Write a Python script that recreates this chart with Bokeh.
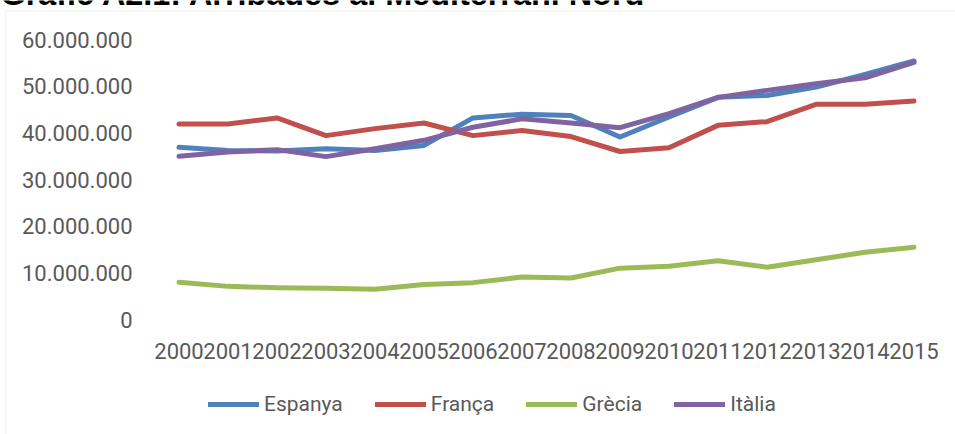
from bokeh.plotting import figure
from bokeh.models import FixedTicker, Legend, LegendItem, Label, BoxAnnotation, Range1d, LinearAxis
from bokeh.embed import file_html
from bokeh.resources import INLINE

title_text = "Gràfic A2.1: Arribades al Mediterrani Nord"
years = ["2000", "2001", "2002", "2003", "2004", "2005", "2006", "2007",
         "2008", "2009", "2010", "2011", "2012", "2013", "2014", "2015"]
# arrivals, in millions
espanya = [36.9, 36.2, 36.1, 36.6, 36.2, 37.3, 43.2, 44.0, 43.7, 39.1, 43.4, 47.6, 48.0, 49.8, 52.5, 55.4]
franca = [41.9, 41.9, 43.2, 39.4, 40.9, 42.1, 39.4, 40.5, 39.2, 36.0, 36.8, 41.6, 42.4, 46.1, 46.1, 46.8]
grecia = [8.0, 7.1, 6.8, 6.7, 6.5, 7.5, 7.9, 9.1, 8.9, 11.0, 11.4, 12.6, 11.2, 12.8, 14.4, 15.5]
italia = [35.0, 35.9, 36.4, 34.9, 36.6, 38.4, 41.2, 43.0, 42.1, 41.1, 44.1, 47.6, 49.1, 50.5, 51.8, 55.1]
series_names = ["Espanya", "França", "Grècia", "Itàlia"]
series_colors = ["#4F81BD", "#C0504D", "#9BBB59", "#8064A2"]
y_ticks = [0, 10, 20, 30, 40, 50, 60]
y_tick_labels = ["0", "10.000.000", "20.000.000", "30.000.000", "40.000.000", "50.000.000", "60.000.000"]

W, H = 955, 434
# pixel geometry of the data area inside the canvas
PL, PR, PT, PB = 154, 938, 39, 319
n = len(years)
ppx = (PR - PL) / n          # px per category
ppy = (PB - PT) / 60.0       # px per million

x_start = -0.5 - PL / ppx
x_end = n - 0.5 + (W - PR) / ppx
y_top = 60 + PT / ppy
y_bot = -(H - PB) / ppy

p = figure(width=W, height=H, output_backend="svg", toolbar_location=None,
           title_location=None,
           x_range=Range1d(x_start, x_end), y_range=Range1d(y_bot, y_top),
           x_axis_type=None, y_axis_type=None,
           min_border_left=0, min_border_right=0, min_border_top=0, min_border_bottom=0)
p.outline_line_color = None
p.background_fill_color = "white"
p.border_fill_color = "white"


def px2x(px):
    return x_start + px / ppx


def py2y(py):
    return y_top - py / ppy


# chart border (top and left visible, rest beyond the window)
border = BoxAnnotation(left=px2x(5), right=x_end + 5, top=py2y(10.5), bottom=y_bot - 5,
                       fill_alpha=0, line_color="#D9D9D9", line_width=1.5)
p.add_layout(border)

xs = list(range(n))
renderers = []
for vals, c in zip([espanya, franca, grecia, italia], series_colors):
    r = p.line(xs, vals, line_color=c, line_width=5, line_cap="round", line_join="round")
    renderers.append(r)

# axes at fixed locations
xaxis = LinearAxis(ticker=FixedTicker(ticks=xs), fixed_location=0,
                   major_label_overrides={i: y for i, y in enumerate(years)})
yaxis = LinearAxis(ticker=FixedTicker(ticks=y_ticks), fixed_location=-0.5,
                   major_label_overrides={t: l for t, l in zip(y_ticks, y_tick_labels)})
for ax in (xaxis, yaxis):
    ax.axis_line_color = None
    ax.major_tick_line_color = None
    ax.minor_tick_line_color = None
    ax.major_tick_out = 0
    ax.major_tick_in = 0
    ax.major_label_text_font = "Roboto"
    ax.major_label_text_font_size = "22px"
    ax.major_label_text_color = "#595959"
xaxis.major_label_standoff = 23
yaxis.major_label_standoff = 22
p.add_layout(xaxis, "below")
p.add_layout(yaxis, "left")

p.xgrid.grid_line_color = None
p.ygrid.ticker = FixedTicker(ticks=y_ticks)
p.ygrid.grid_line_color = "#D9D9D9"
p.ygrid.grid_line_width = 1.5
p.ygrid.bounds = (-0.5, n - 0.5)

# title (mostly cut at the top of the window, as in the source)
p.add_layout(Label(x=px2x(0), y=py2y(-7),
                   text=title_text, text_font="Liberation Sans", text_font_style="bold",
                   text_font_size="32.4px", text_color="black", text_baseline="alphabetic"))

legend = Legend(items=[LegendItem(label=nm, renderers=[r]) for nm, r in zip(series_names, renderers)],
                orientation="horizontal", location=(208, 18),
                glyph_width=51, glyph_height=20, label_standoff=5, spacing=32, label_width=59,
                padding=0, margin=0, border_line_color=None, background_fill_alpha=0,
                label_text_font="Roboto", label_text_font_size="21px", label_text_color="#595959")
p.add_layout(legend)

open("out.html", "w").write(file_html(p, INLINE))
